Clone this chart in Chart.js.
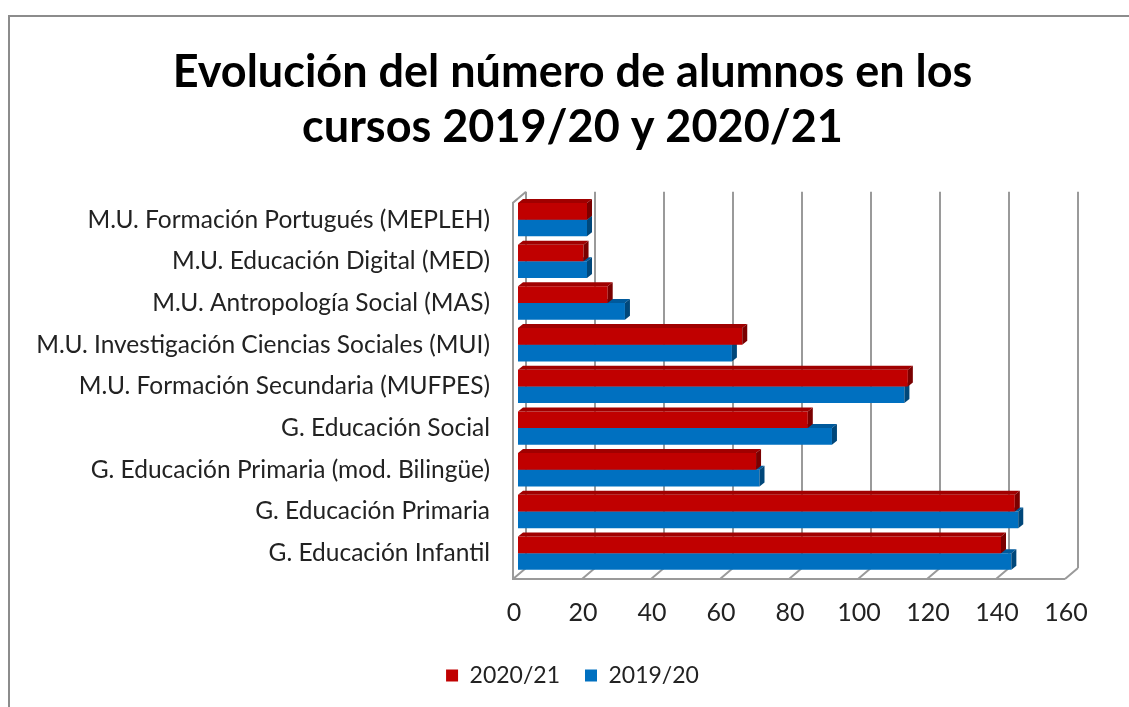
<!DOCTYPE html>
<html>
<head>
<meta charset="utf-8">
<script src="https://cdn.jsdelivr.net/npm/chart.js@4.4.0/dist/chart.umd.min.js"></script>
<style>
  html, body { margin: 0; padding: 0; background: #fff; }
  #wrap { width: 1129px; height: 707px; }
</style>
</head>
<body>
<div id="wrap"><canvas id="chart" width="1129" height="707"></canvas></div>
<script>
// 1. Data
const courses = [
    'M.U. Formación Portugués (MEPLEH)',
    'M.U. Educación Digital (MED)',
    'M.U. Antropología Social (MAS)',
    'M.U. Investigación Ciencias Sociales (MUI)',
    'M.U. Formación Secundaria (MUFPES)',
    'G. Educación Social',
    'G. Educación Primaria (mod. Bilingüe)',
    'G. Educación Primaria',
    'G. Educación Infantil'
];
const students2021 = [20, 19, 26, 65, 113, 84, 69, 144, 140];
const students1920 = [20, 20, 31, 62, 112, 91, 70, 145, 143];
const xTicks = [0, 20, 40, 60, 80, 100, 120, 140, 160];

const FONT = 'Lato, "Open Sans", sans-serif';
const GRID = '#9a9a9a';

// 2. Frame around the picture
const framePlugin = {
    id: 'frame',
    beforeDraw(chart) {
        const ctx = chart.ctx;
        ctx.save();
        ctx.strokeStyle = '#8c8c8c';
        ctx.lineWidth = 2;
        ctx.strokeRect(9, 16, 1300, 900);
        ctx.restore();
    }
};

// 3. Fake 3D walls (back gridlines, left wall, floor)
const wallsPlugin = {
    id: 'walls',
    beforeDatasetsDraw(chart) {
        const ctx = chart.ctx;
        const a = chart.chartArea;
        const xs = chart.scales.x;
        const dx = 13, dy = -11;
        const frontBottom = a.bottom + 5;
        const backTop = a.top - 7;
        ctx.save();
        ctx.strokeStyle = GRID;
        ctx.lineWidth = 2;
        ctx.beginPath();
        xTicks.forEach(v => {
            const xf = xs.getPixelForValue(v) - 5;
            // back wall line
            ctx.moveTo(xf + dx, backTop);
            ctx.lineTo(xf + dx, frontBottom + dy);
            // floor tick
            ctx.moveTo(xf, frontBottom);
            ctx.lineTo(xf + dx, frontBottom + dy);
        });
        const x0 = xs.getPixelForValue(0) - 5;
        const x1 = xs.getPixelForValue(160) - 5;
        // left wall front edge
        ctx.moveTo(x0 + dx, backTop);
        ctx.lineTo(x0, backTop - dy);
        ctx.lineTo(x0, frontBottom);
        // floor front edge
        ctx.lineTo(x1, frontBottom);
        ctx.stroke();
        ctx.restore();
    }
};

// 4. Top and side faces of each bar
const shade = { '#C00000': ['#A00000', '#7A0000'], '#0070C0': ['#005A9C', '#00477A'] };
const barFacesPlugin = {
    id: 'barFaces',
    afterDatasetDraw(chart, args) {
        const ctx = chart.ctx;
        const ds = chart.data.datasets[args.index];
        const [topCol, sideCol] = shade[ds.backgroundColor];
        const ddx = 5, ddy = -4;
        ctx.save();
        args.meta.data.forEach(bar => {
            const y0 = bar.y - bar.height / 2;
            const y1 = bar.y + bar.height / 2;
            const xl = bar.base, xr = bar.x;
            ctx.fillStyle = topCol;
            ctx.beginPath();
            ctx.moveTo(xl, y0);
            ctx.lineTo(xl + ddx, y0 + ddy);
            ctx.lineTo(xr + ddx, y0 + ddy);
            ctx.lineTo(xr, y0);
            ctx.closePath();
            ctx.fill();
            ctx.fillStyle = sideCol;
            ctx.beginPath();
            ctx.moveTo(xr, y0);
            ctx.lineTo(xr + ddx, y0 + ddy);
            ctx.lineTo(xr + ddx, y1 + ddy);
            ctx.lineTo(xr, y1);
            ctx.closePath();
            ctx.fill();
        });
        ctx.restore();
    }
};

// 5. Chart
new Chart(document.getElementById('chart'), {
    type: 'bar',
    data: {
        labels: courses,
        datasets: [
            { label: '2020/21', data: students2021, backgroundColor: '#C00000' },
            { label: '2019/20', data: students1920, backgroundColor: '#0070C0' }
        ]
    },
    options: {
        indexAxis: 'y',
        responsive: false,
        animation: false,
        categoryPercentage: 0.8,
        barPercentage: 1.0,
        layout: { padding: { left: 16, right: 0, top: 0, bottom: 10 } },
        plugins: {
            title: {
                display: true,
                text: ['Evolución del número de alumnos en los', 'cursos 2019/20 y 2020/21'],
                color: '#000',
                font: { family: FONT, size: 45, weight: 'bold', lineHeight: 1.22 },
                padding: { top: 45, bottom: 44 }
            },
            legend: {
                position: 'bottom',
                labels: {
                    color: '#222',
                    font: { family: FONT, size: 23 },
                    boxWidth: 12,
                    boxHeight: 12,
                    padding: 25
                }
            },
            tooltip: { enabled: false }
        },
        scales: {
            x: {
                min: 0,
                max: 160,
                ticks: { stepSize: 20, color: '#222', font: { family: FONT, size: 25 }, padding: 24, labelOffset: -4 },
                grid: { display: false, drawTicks: false },
                border: { display: false },
                afterFit: s => { s.height = 65; }
            },
            y: {
                ticks: { color: '#222', font: { family: FONT, size: 24.5 }, padding: 28 },
                grid: { display: false, drawTicks: false },
                border: { display: false },
                afterFit: s => { s.width = 502; }
            },
            // empty right margin so the plot ends where the reference does
            spacer: {
                type: 'linear',
                axis: 'y',
                position: 'right',
                ticks: { display: false },
                grid: { display: false, drawTicks: false },
                border: { display: false },
                afterFit: s => { s.width = 59; }
            }
        }
    },
    plugins: [framePlugin, wallsPlugin, barFacesPlugin]
});
</script>
</body>
</html>
